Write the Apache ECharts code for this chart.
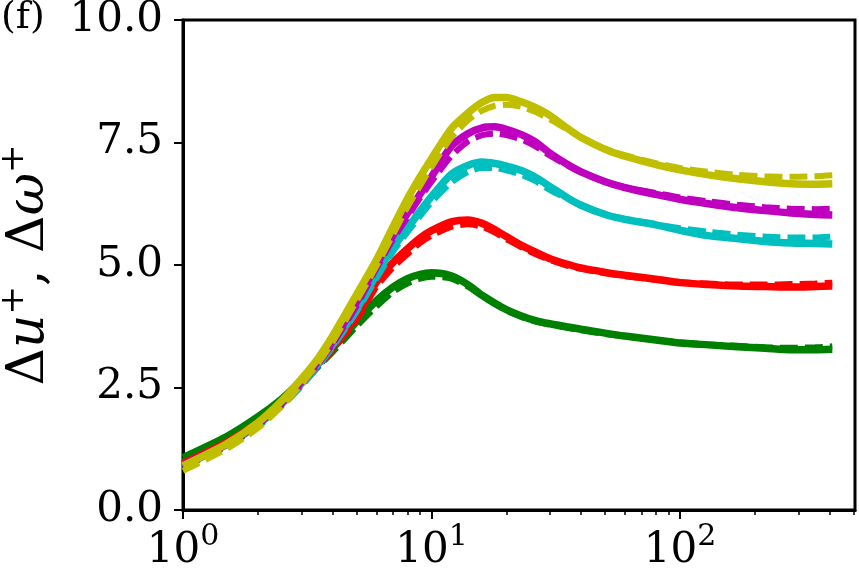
<!DOCTYPE html>
<html lang="en">
<head>
    <meta charset="UTF-8"/>
    <script src="https://cdn.jsdelivr.net/npm/echarts@6/dist/echarts.min.js"></script>
    <title>delta u plus</title>
</head>
<body style="margin:0">

<div id="main" style="width: 859px;height:580px;"></div>
<script type="text/javascript">
    // x positions (log axis)
    var xs = [1, 1.5, 2, 2.5, 3, 3.5, 4, 5, 6, 7, 8, 9, 10, 12, 14, 16, 18, 20, 23, 26, 30, 35, 40, 50, 60, 80, 100, 130, 170, 220, 280, 350, 410];

    var greenSolid = [1.07, 1.5, 1.9, 2.27, 2.65, 3.0, 3.3, 3.85, 4.27, 4.55, 4.72, 4.81, 4.84, 4.78, 4.6, 4.38, 4.22, 4.09, 3.96, 3.87, 3.8, 3.74, 3.69, 3.61, 3.55, 3.47, 3.41, 3.37, 3.33, 3.3, 3.27, 3.27, 3.28];
    var greenDash = [1.0, 1.42, 1.82, 2.2, 2.58, 2.92, 3.22, 3.75, 4.15, 4.45, 4.62, 4.72, 4.76, 4.72, 4.56, 4.36, 4.2, 4.07, 3.94, 3.85, 3.78, 3.72, 3.67, 3.59, 3.54, 3.47, 3.42, 3.38, 3.35, 3.32, 3.31, 3.32, 3.34];
    var redSolid = [0.95, 1.38, 1.78, 2.2, 2.6, 2.98, 3.33, 3.95, 4.65, 5.05, 5.33, 5.55, 5.7, 5.88, 5.92, 5.85, 5.72, 5.58, 5.4, 5.27, 5.13, 5.02, 4.94, 4.85, 4.79, 4.71, 4.64, 4.6, 4.57, 4.56, 4.55, 4.56, 4.57];
    var redDash = [0.9, 1.33, 1.73, 2.15, 2.55, 2.92, 3.27, 3.88, 4.55, 4.95, 5.22, 5.45, 5.6, 5.78, 5.83, 5.78, 5.66, 5.53, 5.36, 5.23, 5.1, 4.99, 4.92, 4.83, 4.77, 4.7, 4.65, 4.62, 4.6, 4.6, 4.61, 4.62, 4.64];
    var cyanSolid = [0.9, 1.33, 1.74, 2.17, 2.58, 2.98, 3.37, 4.1, 4.8, 5.35, 5.75, 6.1, 6.4, 6.85, 7.03, 7.1, 7.07, 7.02, 6.93, 6.8, 6.6, 6.38, 6.22, 6.03, 5.93, 5.82, 5.71, 5.6, 5.54, 5.48, 5.45, 5.44, 5.43];
    var cyanDash = [0.87, 1.3, 1.7, 2.12, 2.53, 2.93, 3.32, 4.05, 4.72, 5.27, 5.67, 6.0, 6.28, 6.68, 6.9, 6.98, 6.98, 6.93, 6.84, 6.72, 6.53, 6.36, 6.21, 6.04, 5.94, 5.83, 5.75, 5.68, 5.62, 5.58, 5.56, 5.56, 5.58];
    var magSolid = [0.92, 1.35, 1.76, 2.2, 2.62, 3.04, 3.45, 4.25, 5.0, 5.6, 6.05, 6.45, 6.8, 7.42, 7.68, 7.8, 7.82, 7.77, 7.66, 7.52, 7.28, 7.06, 6.9, 6.7, 6.58, 6.44, 6.34, 6.25, 6.17, 6.11, 6.06, 6.03, 6.02];
    var magDash = [0.88, 1.31, 1.72, 2.15, 2.57, 2.98, 3.38, 4.17, 4.92, 5.52, 5.97, 6.37, 6.7, 7.22, 7.52, 7.65, 7.68, 7.65, 7.56, 7.43, 7.23, 7.04, 6.89, 6.7, 6.59, 6.47, 6.38, 6.3, 6.23, 6.18, 6.15, 6.14, 6.15];
    var yelSolid = [0.9, 1.35, 1.78, 2.23, 2.68, 3.1, 3.55, 4.4, 5.1, 5.78, 6.35, 6.8, 7.17, 7.78, 8.1, 8.32, 8.42, 8.42, 8.33, 8.22, 8.05, 7.8, 7.6, 7.36, 7.22, 7.05, 6.94, 6.84, 6.76, 6.7, 6.66, 6.65, 6.66];
    var yelDash = [0.8, 1.25, 1.67, 2.12, 2.57, 3.0, 3.43, 4.27, 4.98, 5.62, 6.18, 6.62, 7.0, 7.6, 7.95, 8.15, 8.25, 8.27, 8.23, 8.13, 7.97, 7.77, 7.6, 7.37, 7.24, 7.08, 6.98, 6.9, 6.84, 6.81, 6.8, 6.81, 6.83];

    var xMajor = [1, 10, 100];
    var xMinor = [2, 3, 4, 5, 6, 7, 8, 9, 20, 30, 40, 50, 60, 70, 80, 90, 200, 300, 400, 500];

    var groups = [
        {color: '#008000', solid: greenSolid, dash: greenDash},
        {color: '#ff0000', solid: redSolid, dash: redDash},
        {color: '#00bfbf', solid: cyanSolid, dash: cyanDash},
        {color: '#bf00bf', solid: magSolid, dash: magDash},
        {color: '#bfbf00', solid: yelSolid, dash: yelDash}
    ];

    function pairs(ys) {
        return xs.map(function (x, i) { return [x, ys[i]]; });
    }

    var series = [];
    groups.forEach(function (g) {
        series.push({
            type: 'line', data: pairs(g.solid), showSymbol: false, smooth: 0.25,
            lineStyle: {color: g.color, width: 7.5, cap: 'butt'}
        });
        series.push({
            type: 'line', data: pairs(g.dash), showSymbol: false, smooth: 0.25,
            lineStyle: {color: g.color, width: 6, type: [18, 7], cap: 'butt'}
        });
    });

    var font = 'DejaVu Serif';
    var myChart = echarts.init(document.getElementById('main'));

    var option = {
        animation: false,
        title: {
            text: '(f)', left: -4, top: -6,
            textStyle: {fontFamily: font, fontSize: 38, fontWeight: 'normal', color: '#000'}
        },
        grid: {
            left: 183, right: 4, top: 20, bottom: 70,
            outerBoundsMode: 'none', containLabel: false,
            show: true, borderColor: '#000', borderWidth: 3, backgroundColor: '#fff'
        },
        xAxis: [{
            type: 'log', logBase: 10, min: 1, max: 506,
            splitLine: {show: false},
            axisLine: {lineStyle: {color: '#000', width: 3}},
            axisTick: {customValues: xMajor, length: 9, lineStyle: {color: '#000', width: 2}},
            axisLabel: {
                customValues: xMajor, margin: 12,
                formatter: function (v) {
                    return '{b|10}{s|' + Math.round(Math.log10(v)) + '}';
                },
                rich: {
                    b: {fontFamily: font, fontSize: 42, color: '#000', verticalAlign: 'bottom', lineHeight: 50},
                    s: {fontFamily: font, fontSize: 30, color: '#000', verticalAlign: 'top', lineHeight: 50, padding: [0, 0, 20, 0]}
                }
            }
        }, {
            type: 'log', logBase: 10, min: 1, max: 506, position: 'bottom',
            splitLine: {show: false},
            axisLine: {show: false},
            axisLabel: {show: false},
            axisTick: {customValues: xMinor, length: 5, lineStyle: {color: '#000', width: 1.5}}
        }],
        yAxis: {
            type: 'value', min: 0, max: 10, interval: 2.5,
            splitLine: {show: false},
            axisLine: {show: true, lineStyle: {color: '#000', width: 3}},
            axisTick: {show: true, length: 9, lineStyle: {color: '#000', width: 2}},
            axisLabel: {
                margin: 20, fontFamily: font, fontSize: 42, color: '#000',
                formatter: function (v) { return v.toFixed(1); }
            },
            name: '{a|Δ}{i|u}{s|+}{a|, Δ}{i|ω}{s|+}',
            nameLocation: 'middle', nameGap: 122, nameRotate: 90,
            nameTextStyle: {
                rich: {
                    a: {fontFamily: font, fontSize: 52, color: '#000', lineHeight: 64},
                    i: {fontFamily: font, fontStyle: 'italic', fontSize: 52, color: '#000', lineHeight: 64},
                    s: {fontFamily: font, fontSize: 34, color: '#000', verticalAlign: 'top', lineHeight: 64, padding: [0, 0, 26, 0]}
                }
            }
        },
        series: series
    };

    myChart.setOption(option);
</script>
</body>
</html>
